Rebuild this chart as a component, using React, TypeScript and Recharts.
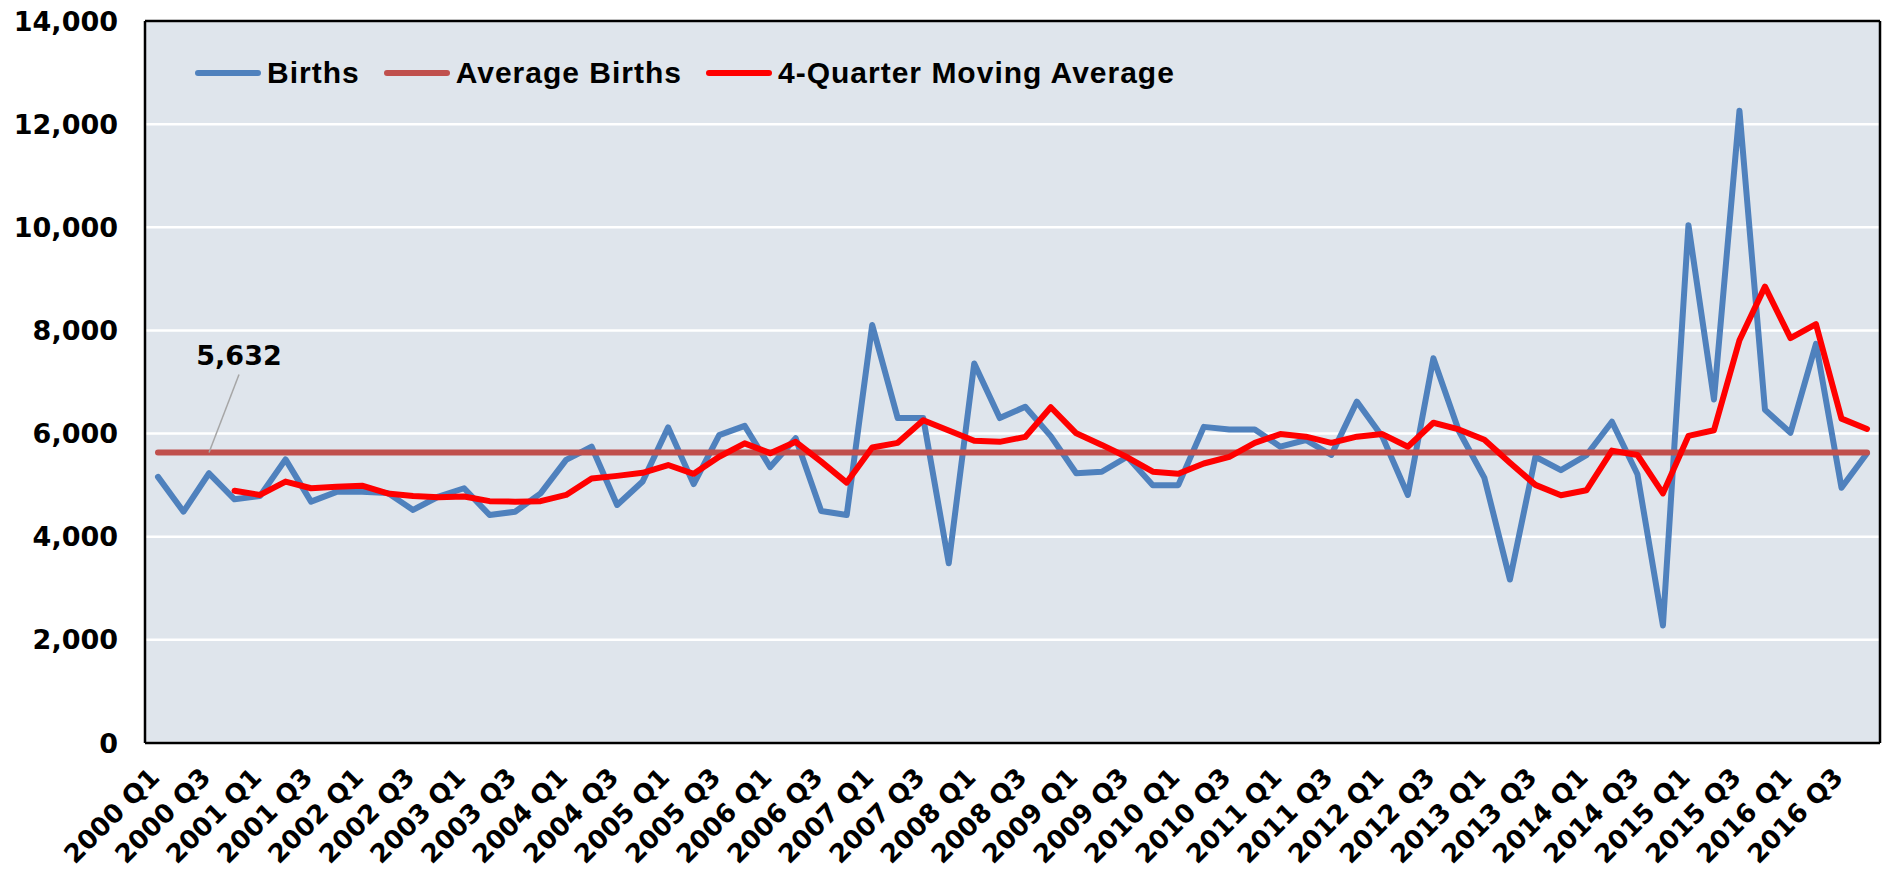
import { LineChart, Line, XAxis, YAxis, CartesianGrid, Legend, ReferenceDot } from 'recharts';

const YEARS = [2000, 2001, 2002, 2003, 2004, 2005, 2006, 2007, 2008, 2009, 2010, 2011, 2012, 2013, 2014, 2015, 2016];
const QUARTERS = ['Q1', 'Q2', 'Q3', 'Q4'];
const QUARTER_LABELS = YEARS.flatMap((y) => QUARTERS.map((q) => `${y} ${q}`));

const BIRTHS = [
  5160, 4485, 5230, 4725, 4790, 5500, 4680, 4870, 4870, 4850,
  4520, 4780, 4940, 4420, 4485, 4840, 5490, 5745, 4615, 5070,
  6120, 5020, 5970, 6150, 5350, 5910, 4500, 4420, 8105, 6300,
  6300, 3485, 7360, 6300, 6520, 5950, 5230, 5260, 5550, 5000,
  5000, 6130, 6080, 6080, 5745, 5875, 5585, 6620, 5940, 4810,
  7460, 6050, 5140, 3170, 5550, 5290, 5580, 6230, 5210, 2280,
  10040, 6660, 12260, 6460, 6015, 7740, 4950, 5620,
];

const MOVING_AVG = [
  null, null, null, 4890, 4810, 5070, 4940, 4970, 4990, 4840,
  4790, 4765, 4780, 4690, 4680, 4690, 4810, 5130, 5180, 5240,
  5390, 5220, 5550, 5810, 5620, 5840, 5455, 5050, 5730, 5820,
  6260, 6060, 5860, 5840, 5935, 6510, 6005, 5780, 5540, 5260,
  5220, 5420, 5550, 5820, 5990, 5940, 5820, 5940, 5990, 5745,
  6210, 6080, 5880, 5435, 5005, 4805, 4900, 5670, 5585, 4840,
  5955, 6065, 7810, 8850, 7850, 8120, 6290, 6090,
];

const AVERAGE_BIRTHS = 5632;
const Y_TICKS = [0, 2000, 4000, 6000, 8000, 10000, 12000, 14000];
const SERIES_NAMES = ['Births', 'Average Births', '4-Quarter Moving Average'];

const data = QUARTER_LABELS.map((q, i) => ({
  q,
  births: BIRTHS[i],
  avg: AVERAGE_BIRTHS,
  ma: MOVING_AVG[i],
}));

const TICK_FONT = 'DejaVu Sans';

function QuarterTick({ x, y, payload }: any) {
  return (
    <g transform={`translate(${x + 3},${y + 36})`}>
      <text transform="rotate(-45)" textAnchor="end" fontFamily={TICK_FONT} fontWeight={700} fontSize={26} fill="#000">
        {payload.value}
      </text>
    </g>
  );
}

function AvgCallout({ cx, cy }: any) {
  return (
    <g>
      <line x1={cx} y1={cy} x2={cx + 30} y2={cy - 78} stroke="#a6a6a6" strokeWidth={1.5} />
      <text x={cx + 30} y={cy - 88} textAnchor="middle" fontFamily={TICK_FONT} fontWeight={700} fontSize={27} fill="#000">
        {AVERAGE_BIRTHS.toLocaleString('en-US')}
      </text>
    </g>
  );
}

function LegendBox({ payload }: any) {
  const items = SERIES_NAMES.map((n) => payload.find((p: any) => p.value === n)).filter(Boolean);
  return (
    <div style={{ display: 'flex', alignItems: 'center', height: 36 }}>
      {items.map((p: any) => (
        <div key={p.value} style={{ display: 'flex', alignItems: 'center', marginRight: 24 }}>
          <svg width={66} height={10} style={{ marginRight: 6 }}>
            <line x1={3} y1={5} x2={63} y2={5} stroke={p.color} strokeWidth={6} strokeLinecap="round" />
          </svg>
          <span style={{ fontFamily: 'Liberation Sans', fontWeight: 700, fontSize: 30, letterSpacing: 1, color: '#000' }}>
            {p.value}
          </span>
        </div>
      ))}
    </div>
  );
}

export default function App() {
  return (
    <div style={{ position: 'absolute', left: 0, top: 0, background: '#fff' }}>
      <LineChart width={1882} height={876} data={data} margin={{ top: 0, right: 0, left: 0, bottom: 0 }}>
        <CartesianGrid vertical={false} stroke="#ffffff" strokeWidth={2.5} fill="#dfe5ec" />
        <XAxis
          dataKey="q"
          interval={1}
          height={133}
          padding={{ left: 13, right: 13 }}
          tickSize={0}
          tickMargin={0}
          tickLine={false}
          axisLine={{ stroke: '#000', strokeWidth: 2.5 }}
          tick={<QuarterTick />}
        />
        <XAxis xAxisId="top" dataKey="q" orientation="top" height={21} tick={false} tickLine={false} axisLine={{ stroke: '#000', strokeWidth: 2.5 }} />
        <YAxis
          domain={[0, 14000]}
          ticks={Y_TICKS}
          width={145}
          tickSize={0}
          tickMargin={27}
          tickLine={false}
          axisLine={{ stroke: '#000', strokeWidth: 2.5 }}
          tickFormatter={(v: number) => v.toLocaleString('en-US')}
          tick={{ fill: '#000', fontSize: 27, fontWeight: 700, fontFamily: TICK_FONT }}
        />
        <YAxis yAxisId="right" orientation="right" domain={[0, 14000]} width={2} tick={false} tickLine={false} axisLine={{ stroke: '#000', strokeWidth: 2.5 }} />
        <Legend
          layout="horizontal"
          verticalAlign="middle"
          align="center"
          content={<LegendBox />}
          wrapperStyle={{ top: 55, left: 195, width: 'auto' }}
        />
        <Line
          name="Births"
          dataKey="births"
          stroke="#4f81bd"
          strokeWidth={6}
          strokeLinejoin="round"
          strokeLinecap="round"
          dot={false}
          activeDot={false}
          isAnimationActive={false}
        />
        <Line
          name="Average Births"
          dataKey="avg"
          stroke="#c0504d"
          strokeWidth={6}
          strokeLinecap="round"
          dot={false}
          activeDot={false}
          isAnimationActive={false}
        />
        <Line
          name="4-Quarter Moving Average"
          dataKey="ma"
          stroke="#ff0000"
          strokeWidth={6}
          strokeLinejoin="round"
          strokeLinecap="round"
          dot={false}
          activeDot={false}
          isAnimationActive={false}
        />
        <ReferenceDot x="2000 Q3" y={AVERAGE_BIRTHS} r={1} shape={<AvgCallout />} />
      </LineChart>
    </div>
  );
}
